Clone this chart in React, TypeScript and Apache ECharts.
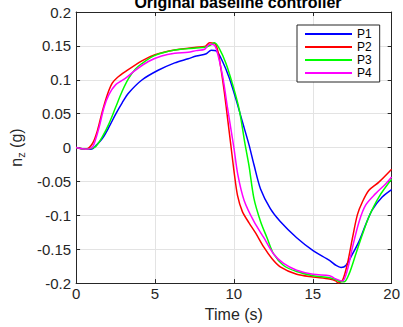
import React, { useEffect, useRef } from "react";
import * as echarts from "echarts";

const titleText = "Original baseline controller";
const xName = "Time (s)";
const seriesNames = ["P1", "P2", "P3", "P4"];
const seriesColors = ["#0000ff", "#ff0000", "#00ff00", "#ff00ff"];

const tP1 = [0, 0.6, 1.0, 1.3, 1.67, 2.08, 2.5, 2.92, 3.33, 4.17, 5.2, 6.25, 7.1, 7.62, 8.25, 8.56, 8.88, 9.29, 9.71, 10.13, 10.54, 10.96, 11.27, 11.69, 12.31, 12.94, 13.98, 15.02, 16.06, 16.48, 16.79, 17.1, 17.52, 17.94, 18.35, 18.77, 19.4, 20];
const yP1 = [0, -0.0025, -0.002, 0.004, 0.0135, 0.03, 0.049, 0.066, 0.0805, 0.0997, 0.114, 0.125, 0.131, 0.135, 0.1385, 0.1435, 0.1425, 0.1266, 0.1026, 0.0715, 0.038, 0.004, -0.025, -0.061, -0.09, -0.109, -0.133, -0.152, -0.1665, -0.174, -0.177, -0.174, -0.157, -0.138, -0.114, -0.092, -0.073, -0.062];

const tP2 = [0, 0.62, 1.04, 1.35, 1.67, 1.98, 2.29, 2.6, 3.12, 4.17, 5.0, 6.25, 7.62, 8.15, 8.46, 8.77, 8.98, 9.19, 9.4, 9.6, 9.81, 10.02, 10.23, 10.54, 10.96, 11.375, 11.9, 12.42, 12.94, 13.98, 15.02, 16.06, 16.48, 16.6, 16.9, 17.2, 17.52, 17.83, 18.15, 18.56, 19.19, 20];
const yP2 = [0, -0.0025, 0.006, 0.025, 0.054, 0.078, 0.095, 0.103, 0.112, 0.128, 0.137, 0.144, 0.148, 0.149, 0.1545, 0.154, 0.143, 0.115, 0.081, 0.043, 0.003, -0.037, -0.0705, -0.0945, -0.111, -0.126, -0.147, -0.164, -0.176, -0.187, -0.191, -0.194, -0.197, -0.2, -0.195, -0.171, -0.133, -0.099, -0.08, -0.063, -0.051, -0.032];

const tP3 = [0, 0.62, 1.0, 1.25, 1.67, 2.08, 2.5, 2.92, 3.33, 3.75, 4.17, 5.0, 6.25, 7.62, 8.15, 8.5, 8.77, 9.08, 9.5, 9.92, 10.33, 10.7, 10.96, 11.27, 11.69, 12.1, 12.52, 13.15, 13.98, 15.02, 16.06, 16.48, 16.69, 17.0, 17.31, 17.73, 18.15, 18.56, 19.19, 20];
const yP3 = [0, -0.0025, -0.001, 0.0014, 0.016, 0.035, 0.059, 0.083, 0.102, 0.1155, 0.124, 0.136, 0.144, 0.147, 0.148, 0.151, 0.1545, 0.146, 0.124, 0.093, 0.057, 0.006, -0.027, -0.075, -0.109, -0.133, -0.157, -0.174, -0.183, -0.189, -0.192, -0.195, -0.1975, -0.198, -0.186, -0.157, -0.128, -0.102, -0.073, -0.0465];

const tP4 = [0, 0.62, 1.0, 1.15, 1.46, 1.77, 2.08, 2.5, 3.12, 3.75, 4.58, 5.42, 6.25, 7.1, 7.62, 8.15, 8.45, 8.7, 8.88, 9.29, 9.6, 10.0, 10.25, 10.65, 11.27, 11.9, 12.52, 13.15, 13.98, 15.02, 16.06, 16.375, 16.7, 16.9, 17.2, 17.52, 17.94, 18.35, 18.98, 19.6, 20];
const yP4 = [0, -0.0025, 0.0, 0.006, 0.03, 0.059, 0.078, 0.0925, 0.102, 0.114, 0.127, 0.135, 0.139, 0.1405, 0.143, 0.145, 0.1525, 0.152, 0.146, 0.105, 0.058, 0.0, -0.04, -0.078, -0.109, -0.133, -0.157, -0.171, -0.181, -0.187, -0.189, -0.193, -0.196, -0.197, -0.18, -0.147, -0.109, -0.085, -0.068, -0.054, -0.0435];

const times = [tP1, tP2, tP3, tP4];
const values = [yP1, yP2, yP3, yP4];

const FONT = "'Liberation Sans', Arial, Helvetica, sans-serif";
const AXIS_COLOR = "#262626";

export default function App() {
  const ref = useRef<HTMLDivElement>(null);
  useEffect(() => {
    if (!ref.current) return;
    const chart = echarts.init(ref.current, undefined, { renderer: "svg" });
    const axisCommon = {
      axisLine: { show: true, onZero: false, lineStyle: { color: AXIS_COLOR, width: 1 } },
      axisTick: { show: true, inside: true, length: 4, lineStyle: { color: AXIS_COLOR } },
    };
    const fmt = (v: number) => String(Math.round(v * 100) / 100);
    chart.setOption({
      animation: false,
      backgroundColor: "#ffffff",
      textStyle: { fontFamily: FONT },
      title: {
        text: titleText,
        left: 233,
        textAlign: "center",
        top: -11,
        textStyle: { fontFamily: FONT, fontSize: 16, fontWeight: "bold", color: "#000" },
      },
      legend: {
        orient: "vertical",
        left: 297,
        top: 25,
        padding: [3, 8, 3, 8],
        borderColor: AXIS_COLOR,
        borderWidth: 1,
        backgroundColor: "#ffffff",
        icon: "rect",
        itemWidth: 47,
        itemHeight: 2,
        itemGap: 1,
        data: seriesNames,
        textStyle: { fontFamily: FONT, fontSize: 12, lineHeight: 12, color: "#000" },
      },
      grid: { left: 73, right: 10, top: 12, bottom: 37, containLabel: false },
      xAxis: [
        {
          type: "value",
          min: 0,
          max: 20,
          interval: 5,
          position: "bottom",
          ...axisCommon,
          axisLabel: { show: true, margin: 3, fontSize: 15, color: AXIS_COLOR, fontFamily: FONT },
          splitLine: { show: true, lineStyle: { color: "#e3e3e3", width: 1 } },
          name: xName,
          nameLocation: "middle",
          nameGap: 20,
          nameTextStyle: { fontSize: 16, color: AXIS_COLOR, fontFamily: FONT },
        },
        {
          type: "value",
          min: 0,
          max: 20,
          interval: 5,
          position: "top",
          ...axisCommon,
          axisLabel: { show: false },
          splitLine: { show: false },
        },
      ],
      yAxis: [
        {
          type: "value",
          min: -0.2,
          max: 0.2,
          interval: 0.05,
          position: "left",
          ...axisCommon,
          axisLabel: { show: true, margin: 5, fontSize: 15, color: AXIS_COLOR, fontFamily: FONT, formatter: fmt },
          splitLine: { show: true, lineStyle: { color: "#e3e3e3", width: 1 } },
          name: "{n|n}{z|z}{n| (g)}",
          nameLocation: "middle",
          nameGap: 50,
          nameTextStyle: {
            color: AXIS_COLOR,
            fontFamily: FONT,
            rich: {
              n: { fontSize: 16, color: AXIS_COLOR, fontFamily: FONT, lineHeight: 20 },
              z: { fontSize: 11, color: AXIS_COLOR, fontFamily: FONT, verticalAlign: "bottom", lineHeight: 20, padding: [6, 0, 0, 0] },
            },
          },
        },
        {
          type: "value",
          min: -0.2,
          max: 0.2,
          interval: 0.05,
          position: "right",
          ...axisCommon,
          axisLabel: { show: false },
          splitLine: { show: false },
        },
      ],
      series: seriesNames.map((name, i) => ({
        name,
        type: "line",
        xAxisIndex: 0,
        yAxisIndex: 0,
        data: times[i].map((t, j) => [t, values[i][j]]),
        showSymbol: false,
        symbol: "none",
        smooth: 0.3,
        color: seriesColors[i],
        lineStyle: { color: seriesColors[i], width: 1.5 },
      })),
    });
    return () => chart.dispose();
  }, []);
  return (
    <div
      ref={ref}
      style={{ position: "fixed", left: 0, top: 0, width: 403, height: 327, background: "#fff" }}
    />
  );
}
